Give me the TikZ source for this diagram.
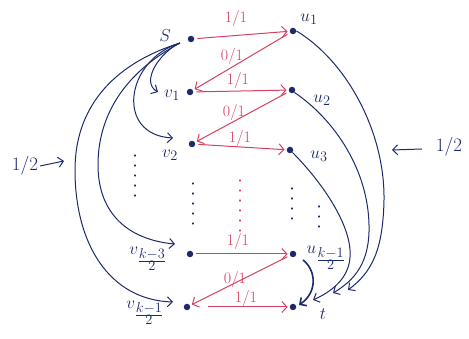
\documentclass[tikz,border=0pt]{standalone}
\usetikzlibrary{arrows.meta}
\definecolor{ink}{HTML}{1C2A6B}
\definecolor{rink}{HTML}{D4405F}
\begin{document}
\begin{tikzpicture}[x=1pt,y=-1pt,
  dot/.style={circle,fill=ink,inner sep=0pt,minimum size=6.5pt},
  lab/.style={text=ink,font=\fontsize{19}{22}\selectfont,inner sep=1pt},
  flow/.style={draw=rink,line width=1pt,shorten >=2pt,shorten <=3pt,-{Straight Barb[length=5pt,width=11pt]}},
  flab/.style={text=rink,font=\fontsize{16}{18}\selectfont,inner sep=1pt},
  bl/.style={draw=ink,line width=1pt,-{Straight Barb[length=5pt,width=10pt]}},
  vd/.style={line width=1.1pt,line cap=round,dash pattern=on 1pt off 9pt},
]
\useasboundingbox (0,0) rectangle (469,339);
% dots
\node[dot] (s) at (191,39) {};
\node[dot] (u1) at (293,31) {};
\node[dot] (v1) at (190,92) {};
\node[dot] (u2) at (292,90) {};
\node[dot] (v2) at (192,144) {};
\node[dot] (u3) at (290,150) {};
\node[dot] (vk3) at (190,254) {};
\node[dot] (uk1) at (293,254) {};
\node[dot] (vk1) at (187,307) {};
\node[dot] (t) at (293,307) {};
% labels
\node[lab] (sl) at (165,36) {$S$};
\node[lab] (u1l) at (309,19) {$u_1$};
\node[lab] (v1l) at (172,95) {$v_1$};
\node[lab] (u2l) at (322,100) {$u_2$};
\node[lab] (v2l) at (170,155) {$v_2$};
\node[lab] (u3l) at (319,156) {$u_3$};
\node[lab] (vk3l) at (148,259) {$v_{\frac{\scriptstyle k-3}{\scriptstyle 2}}$};
\node[lab] (uk1l) at (326,258) {$u_{\frac{\scriptstyle k-1}{\scriptstyle 2}}$};
\node[lab] (vk1l) at (145,313) {$v_{\frac{\scriptstyle k-1}{\scriptstyle 2}}$};
\node[lab] (tl) at (323,314) {$t$};
% red flow edges
\draw[flow] (s) -- (u1);
\draw[flow] (u1) -- (v1);
\draw[flow] (v1) -- (u2);
\draw[flow] (u2) -- (v2);
\draw[flow] (v2) -- (u3);
\draw[flow] (vk3) -- (uk1);
\draw[flow] (uk1) -- (vk1);
\draw[flow,shorten <=18pt] (vk1) -- (t);
\node[flab] (e1) at (236,19) {1/1};
\node[flab] (e2) at (232,57) {0/1};
\node[flab] (e3) at (238,81) {1/1};
\node[flab] (e4) at (234,113) {0/1};
\node[flab] (e5) at (240,139) {1/1};
\node[flab] (e6) at (238,242) {1/1};
\node[flab] (e7) at (235,280) {0/1};
\node[flab] (e8) at (246,299) {1/1};
% vertical dots
\draw[vd,draw=ink] (135,155) -- (135,197);
\draw[vd,draw=ink] (193,183) -- (193,232);
\draw[vd,draw=rink] (240,180) -- (240,234);
\draw[vd,draw=ink] (292,188) -- (292,224);
\draw[vd,draw=ink] (319,206) -- (319,228);
% left blue curves from s
\coordinate (sfan) at ([shift={(-11,4)}]s.center);
\draw[bl] (sfan) .. controls (160,52) and (140,82) .. ([shift={(-32,0)}]v1.center);
\draw[bl] (sfan) .. controls (125,60) and (115,135) .. ([shift={(-19,-6)}]v2.center);
\draw[bl] (sfan) .. controls (120,75) and (98,120) .. (98,165) .. controls (98,215) and (130,240) .. ([shift={(-15,-10)}]vk3.center);
\draw[bl] (sfan) .. controls (110,65) and (75,110) .. (75,170) .. controls (75,245) and (110,300) .. ([shift={(-14,-5)}]vk1.center);
% right blue curves to t
\draw[bl] (u1.east) .. controls (345,60) and (385,130) .. (384,200) .. controls (383,250) and (372,272) .. ([shift={(55,-17)}]t.center);
\draw[bl] (u2.south east) .. controls (335,120) and (368,170) .. (369,225) .. controls (370,262) and (355,280) .. ([shift={(40,-14)}]t.center);
\draw[bl] (u3.south east) .. controls (320,180) and (348,220) .. (350,250) .. controls (352,275) and (335,290) .. ([shift={(20,-7)}]t.center);
\draw[bl,line width=1.6pt] ([shift={(10,6)}]uk1.center) .. controls (316,270) and (318,292) .. ([shift={(6,-2)}]t.center);
% 1/2 annotations
\node[lab] (hl) at (25,166) {1/2};
\coordinate (hla) at (40,166);
\coordinate (hlb) at (64,161);
\draw[bl] (hla) -- (hlb);
\node[lab] (hr) at (449,147) {1/2};
\coordinate (hra) at (422,149);
\coordinate (hrb) at (392,150);
\draw[bl] (hra) -- (hrb);
\end{tikzpicture}
\end{document}
